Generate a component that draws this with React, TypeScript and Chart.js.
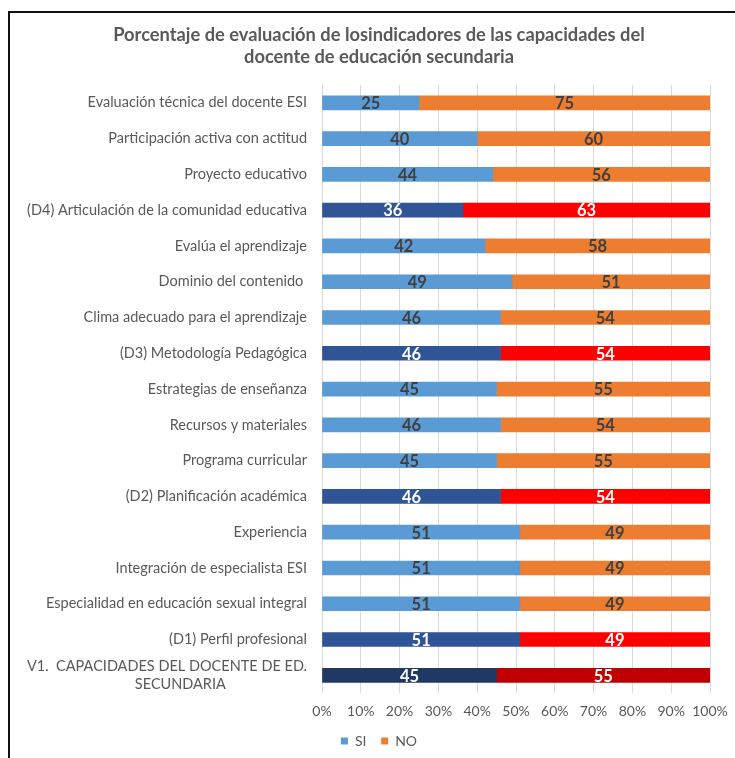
import React, { useEffect, useRef } from "react";
import { Chart, registerables } from "chart.js";

Chart.register(...registerables);

const titleLines = [
  "Porcentaje de evaluación de losindicadores de las capacidades del",
  "docente de educación secundaria",
];

const categories: (string | string[])[] = [
  "Evaluación técnica del docente ESI",
  "Participación activa con actitud",
  "Proyecto educativo",
  "(D4) Articulación de la comunidad educativa",
  "Evalúa el aprendizaje",
  "Dominio del contenido ",
  "Clima adecuado para el aprendizaje",
  "(D3) Metodología Pedagógica",
  "Estrategias de enseñanza",
  "Recursos y materiales",
  "Programa curricular",
  "(D2) Planificación académica",
  "Experiencia",
  "Integración de especialista ESI",
  "Especialidad en educación sexual integral",
  "(D1) Perfil profesional",
  ["V1.  CAPACIDADES DEL DOCENTE DE ED.", "SECUNDARIA" + "\u00a0".repeat(22)],
];

// row type: 0 = indicator, 1 = dimension, 2 = variable
const rowTypes = [0, 0, 0, 1, 0, 0, 0, 1, 0, 0, 0, 1, 0, 0, 0, 1, 2];

const siValues = [25, 40, 44, 36, 42, 49, 46, 46, 45, 46, 45, 46, 51, 51, 51, 51, 45];
const noValues = [75, 60, 56, 63, 58, 51, 54, 54, 55, 54, 55, 54, 49, 49, 49, 49, 55];

const xTicks = ["0%", "10%", "20%", "30%", "40%", "50%", "60%", "70%", "80%", "90%", "100%"];

const siColors = ["#5B9BD5", "#2F5597", "#1F3864"];
const noColors = ["#ED7D31", "#FF0000", "#C00000"];
const labelColors = ["#404040", "#FFFFFF", "#FFFFFF"];

const FONT = "Lato, 'Open Sans', sans-serif";

const valueLabels = {
  id: "valueLabels",
  afterDatasetsDraw(chart: any) {
    const ctx = chart.ctx;
    ctx.save();
    ctx.font = `bold 16.5px ${FONT}`;
    ctx.textAlign = "center";
    ctx.textBaseline = "middle";
    chart.data.datasets.forEach((ds: any, di: number) => {
      const meta = chart.getDatasetMeta(di);
      meta.data.forEach((el: any, i: number) => {
        const raw = ds.rawValues[i];
        ctx.fillStyle = labelColors[rowTypes[i]];
        ctx.fillText(String(raw), (el.x + el.base) / 2, el.y + 1);
      });
    });
    ctx.restore();
  },
};

export default function App() {
  const ref = useRef<HTMLCanvasElement>(null);
  useEffect(() => {
    if (!ref.current) return;
    const totals = siValues.map((v, i) => v + noValues[i]);
    const defaultGen = (Chart.defaults as any).plugins.legend.labels.generateLabels;
    const chart = new Chart(ref.current, {
      type: "bar",
      data: {
        labels: categories,
        datasets: [
          {
            label: "SI",
            data: siValues.map((v, i) => (v / totals[i]) * 100),
            rawValues: siValues,
            backgroundColor: (c: any) =>
              c.dataIndex === undefined ? siColors[0] : siColors[rowTypes[c.dataIndex]],
            barThickness: 14,
          } as any,
          {
            label: "NO",
            data: noValues.map((v, i) => (v / totals[i]) * 100),
            rawValues: noValues,
            backgroundColor: (c: any) =>
              c.dataIndex === undefined ? noColors[0] : noColors[rowTypes[c.dataIndex]],
            barThickness: 14,
          } as any,
        ],
      },
      options: {
        indexAxis: "y",
        responsive: false,
        animation: false,
        layout: { padding: { left: 0, right: 0, top: 0, bottom: 0 } },
        scales: {
          x: {
            stacked: true,
            min: 0,
            max: 100,
            border: { display: false },
            grid: { color: "#D9D9D9", drawTicks: false },
            ticks: {
              stepSize: 10,
              padding: 10,
              maxRotation: 0,
              minRotation: 0,
              autoSkip: false,
              color: "#595959",
              font: { family: FONT, size: 14 },
              callback: (_v: any, i: number) => xTicks[i],
            },
          },
          y: {
            stacked: true,
            border: { display: false },
            grid: { display: false, drawTicks: false },
            ticks: {
              padding: 15,
              color: "#595959",
              font: { family: FONT, size: 14.5, lineHeight: 1.2 },
              autoSkip: false,
            },
            afterFit: (scale: any) => {
              scale.width = 312;
            },
          },
          yRight: {
            type: "category",
            axis: "y",
            position: "right",
            display: true,
            border: { display: false },
            grid: { display: false, drawTicks: false },
            ticks: { display: false },
            afterFit: (scale: any) => {
              scale.width = 38;
            },
          },
        },
        plugins: {
          title: {
            display: true,
            text: titleLines,
            color: "#595959",
            font: { family: FONT, size: 18.3, weight: "bold", lineHeight: 1.2 },
            padding: { top: 11, bottom: 17 },
          },
          legend: {
            display: true,
            position: "bottom",
            labels: {
              boxWidth: 7,
              boxHeight: 7,
              padding: 4,
              color: "#595959",
              font: { family: FONT, size: 14 },
              generateLabels: (ch: any) => {
                const items = defaultGen(ch);
                items.forEach((it: any, i: number) => {
                  if (i < items.length - 1) it.text = it.text + "\u00a0\u00a0\u00a0";
                });
                return items;
              },
            },
          },
          tooltip: { enabled: false },
        },
      } as any,
      plugins: [valueLabels],
    });
    return () => chart.destroy();
  }, []);

  return (
    <div
      style={{
        position: "fixed",
        left: 8,
        top: 11,
        width: 725,
        height: 745,
        overflow: "hidden",
        borderTop: "2px solid #111",
        borderLeft: "2px solid #111",
        background: "#fff",
      }}
    >
      <canvas ref={ref} width={738} height={745} style={{ display: "block" }} />
    </div>
  );
}
